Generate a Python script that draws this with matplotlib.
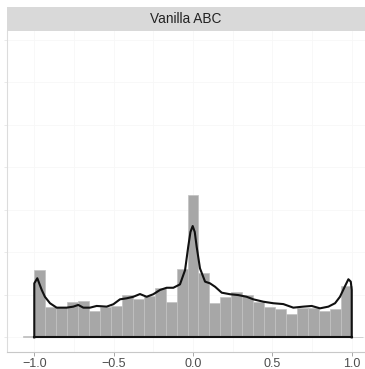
import numpy as np
import matplotlib
matplotlib.use("Agg")
import matplotlib.pyplot as plt

plt.rcParams['font.family'] = ['Liberation Sans', 'DejaVu Sans']

# ---- data ----
title = "Vanilla ABC"
bin_width = 2 / 29
bin_index = list(range(-15, 16))
bar_heights = [0.010, 0.396, 0.181, 0.181, 0.208, 0.214, 0.155, 0.177, 0.185,
               0.249, 0.224, 0.244, 0.291, 0.206, 0.405, 0.835, 0.381, 0.202,
               0.239, 0.267, 0.249, 0.208, 0.181, 0.167, 0.138, 0.175, 0.175,
               0.157, 0.167, 0.302, 0.0]

density_x = [-1.0, -1.0, -0.981, -0.953, -0.933, -0.901, -0.859, -0.796, -0.754,
             -0.723, -0.691, -0.649, -0.607, -0.544, -0.502, -0.460, -0.418,
             -0.376, -0.334, -0.292, -0.250, -0.208, -0.166, -0.124, -0.082,
             -0.050, -0.030, -0.016, -0.002, 0.011, 0.023, 0.044, 0.076, 0.107,
             0.139, 0.181, 0.233, 0.285, 0.338, 0.380, 0.443, 0.506, 0.569,
             0.632, 0.695, 0.748, 0.800, 0.853, 0.895, 0.926, 0.958, 0.979,
             0.994, 1.0, 1.0]
density_y = [0.0, 0.318, 0.348, 0.279, 0.239, 0.201, 0.175, 0.175, 0.181,
             0.191, 0.175, 0.175, 0.185, 0.181, 0.195, 0.224, 0.230,
             0.239, 0.255, 0.239, 0.254, 0.279, 0.292, 0.292, 0.312,
             0.396, 0.534, 0.620, 0.655, 0.620, 0.534, 0.406, 0.328, 0.318,
             0.298, 0.263, 0.254, 0.249, 0.239, 0.224, 0.210, 0.201, 0.196,
             0.175, 0.181, 0.185, 0.171, 0.181, 0.201, 0.239, 0.302, 0.342,
             0.328, 0.279, 0.0]

x_ticks = [-1.0, -0.5, 0.0, 0.5, 1.0]
x_tick_labels = ["\u22121.0", "\u22120.5", "0.0", "0.5", "1.0"]
x_grid = [-1.0, -0.75, -0.5, -0.25, 0.0, 0.25, 0.5, 0.75, 1.0]
y_grid = [0.0, 0.25, 0.5, 0.75, 1.0, 1.25, 1.5, 1.75]

# ---- figure ----
W, H = 365, 369
fig = plt.figure(figsize=(W / 100, H / 100), dpi=100)
ax = fig.add_axes([7.3 / W, 17 / H, 371.4 / W, 321 / H])

centers = np.array(bin_index) * bin_width
ax.bar(centers, bar_heights, width=bin_width, color='#a7a7a7',
       edgecolor='#c2c2c2', linewidth=0.5, zorder=2)
ax.plot(density_x, density_y, color='#111111', lw=1.5, zorder=3,
        solid_joinstyle='round')
ax.plot([density_x[0], density_x[-1]], [0, 0], color='#111111', lw=1.5, zorder=3)

ax.set_xlim(-1.17, 1.17)
ax.set_ylim(-0.0858, 1.802)

for gx in x_grid:
    ax.axvline(gx, color='#f7f7f7', lw=0.6, zorder=0)
for gy in y_grid:
    ax.axhline(gy, color='#f7f7f7', lw=0.6, zorder=0)

ax.set_xticks(x_ticks)
ax.set_xticklabels(x_tick_labels, fontsize=9, color='#4d4d4d')
ax.set_yticks(y_grid)
ax.set_yticklabels([])
ax.tick_params(axis='x', length=3, width=0.6, color='#9a9a9a', pad=1)
ax.tick_params(axis='y', length=2, width=0.6, color='#e6e6e6')

for s in ['top', 'right']:
    ax.spines[s].set_visible(False)
ax.spines['left'].set_color('#dcdcdc')
ax.spines['bottom'].set_color('#c8c8c8')
ax.spines['left'].set_linewidth(0.8)
ax.spines['bottom'].set_linewidth(0.8)

# strip
sax = fig.add_axes([7.3 / W, 338 / H, 371.4 / W, 24 / H])
sax.set_facecolor('#d9d9d9')
sax.set_xticks([]); sax.set_yticks([])
for s in sax.spines.values():
    s.set_visible(False)
sax.text((186 - 7.3) / 371.4, 0.5, title, transform=sax.transAxes,
         ha='center', va='center', fontsize=9.8, color='#222222')

fig.savefig('out.png', dpi=100)
